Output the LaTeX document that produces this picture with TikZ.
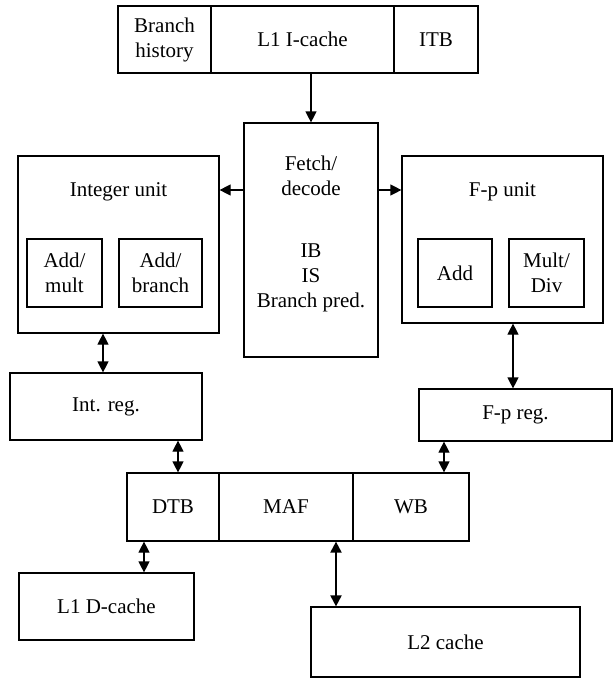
\documentclass[tikz,border=0pt]{standalone}
\usepackage{fontspec}
\setmainfont{Liberation Serif}
\usetikzlibrary{arrows.meta}
\begin{document}
\begin{tikzpicture}[x=1pt,y=-1pt,
  every node/.style={font=\fontsize{21}{25}\selectfont, align=center},
  unitbox/.style={draw, line width=1.2pt, inner sep=0pt},
  tip/.style={-{Triangle[length=11pt,width=11pt]}},
  bitip/.style={{Triangle[length=11pt,width=11pt]}-{Triangle[length=11pt,width=11pt]}},
  link/.style={line width=1.2pt}
]
\useasboundingbox (0,0) rectangle (616,678);

% instruction side: branch history, L1 I-cache, ITB
\node[unitbox, line width=1.8pt, minimum width=93pt, minimum height=67pt] (bh) at (164.5,39.5) {Branch\\history};
\node[unitbox, minimum width=183pt, minimum height=67pt] (ic) at (302.5,39.5) {L1 I-cache};
\node[unitbox, minimum width=84pt, minimum height=67pt] (itb) at (436,39.5) {ITB};

% fetch/decode
\node[unitbox, minimum width=134pt, minimum height=234pt] (fd) at (311,240) {};
\node (fdtitle) at (311,176) {Fetch/\\decode};
\node (fdbody) at (311,278) {IB\\IS\\Branch pred.};

% integer unit
\node[unitbox, minimum width=201pt, minimum height=177pt] (iu) at (118.5,244.5) {};
\node (iutitle) at (118.5,192) {Integer unit};
\node[unitbox, minimum width=75pt, minimum height=68pt] (am) at (64.5,273) {Add/\\mult};
\node[unitbox, minimum width=83pt, minimum height=68pt] (ab) at (160.5,273) {Add/\\branch};

% floating-point unit
\node[unitbox, minimum width=201pt, minimum height=167pt] (fu) at (502.5,239.5) {};
\node (futitle) at (502.5,192) {F-p unit};
\node[unitbox, minimum width=74pt, minimum height=68pt] (fadd) at (455,273) {Add};
\node[unitbox, minimum width=75pt, minimum height=68pt] (fmd) at (546.5,273) {Mult/\\Div};

% register files
\node[unitbox, minimum width=192pt, minimum height=67pt] (ir) at (106,406.5) {Int. reg.};
\node[unitbox, minimum width=193pt, minimum height=52pt] (fr) at (515.5,415) {F-p reg.};

% memory access: DTB, MAF, WB
\node[unitbox, minimum width=92pt, minimum height=68pt] (dtb) at (173,507) {DTB};
\node[unitbox, minimum width=134pt, minimum height=68pt] (maf) at (286,507) {MAF};
\node[unitbox, minimum width=116pt, minimum height=68pt] (wb) at (411,507) {WB};

% caches
\node[unitbox, minimum width=175pt, minimum height=67pt] (dc) at (106.5,606.5) {L1 D-cache};
\node[unitbox, minimum width=269pt, minimum height=70pt] (l2) at (445.5,642) {L2 cache};

% connectors
\draw[link, tip] ([xshift=8.5]ic.south) -- ([xshift=8.5]ic.south |- fd.north);
\draw[link, tip] ([yshift=50]fd.west) -- ([yshift=50]fd.west -| iu.east);
\draw[link, tip] ([yshift=50]fd.east) -- ([yshift=50]fd.east -| fu.west);
\draw[link, bitip] ([xshift=-15.5]iu.south) -- ([xshift=-15.5]iu.south |- ir.north);
\draw[link, bitip] ([xshift=10.5]fu.south) -- ([xshift=10.5]fu.south |- fr.north);
\draw[link, bitip] ([xshift=72]ir.south) -- ([xshift=72]ir.south |- dtb.north);
\draw[link, bitip] ([xshift=33]wb.north) -- ([xshift=33]wb.north |- fr.south);
\draw[link, bitip] ([xshift=-29]dtb.south) -- ([xshift=-29]dtb.south |- dc.north);
\draw[line width=2pt, bitip] ([xshift=50]maf.south) -- ([xshift=50]maf.south |- l2.north);
\end{tikzpicture}
\end{document}
